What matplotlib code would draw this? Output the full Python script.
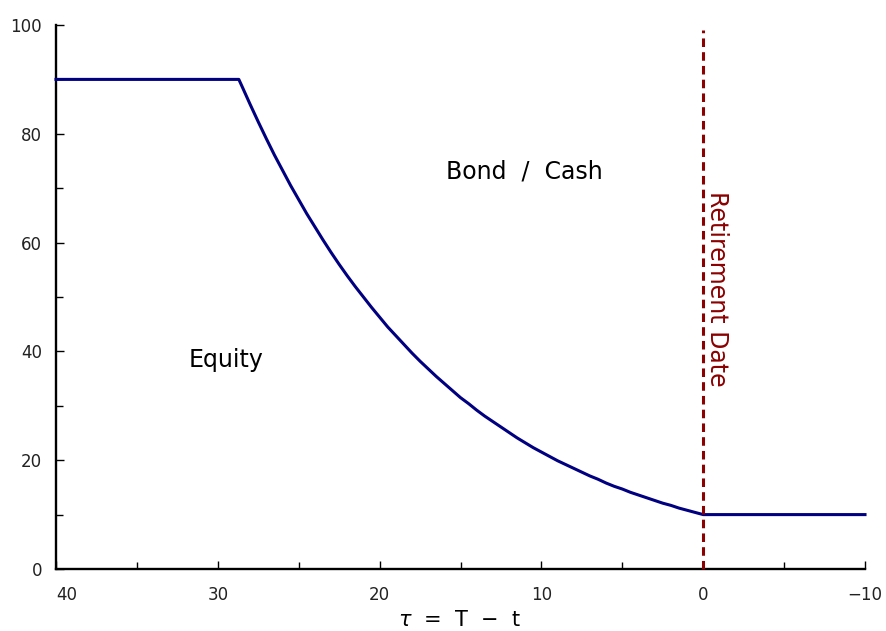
import matplotlib
matplotlib.use("Agg")
import matplotlib.pyplot as plt

# Data
tau = [40, 28.7, 28.5, 28, 27.5, 27, 26.5, 26, 25.5, 25, 24.5, 24, 23.5, 23, 22.5, 22,
       21.5, 21, 20.5, 20, 19.5, 19, 18.5, 18, 17.5, 17, 16.5, 16, 15.5, 15, 14.5, 14,
       13.5, 13, 12.5, 12, 11.5, 11, 10.5, 10, 9.5, 9, 8.5, 8, 7.5, 7, 6.5, 6, 5.5, 5,
       4.5, 4, 3.5, 3, 2.5, 2, 1.5, 1, 0.5, 0, -10]
equity = [90, 90, 88.7, 85.4, 82.2, 79.1, 76.1, 73.3, 70.5, 67.9, 65.3, 62.9, 60.5, 58.2,
          56.0, 53.9, 51.9, 50.0, 48.1, 46.3, 44.5, 42.9, 41.3, 39.7, 38.2, 36.8, 35.4,
          34.1, 32.8, 31.5, 30.4, 29.2, 28.1, 27.1, 26.1, 25.1, 24.1, 23.2, 22.3, 21.5,
          20.7, 19.9, 19.2, 18.5, 17.8, 17.1, 16.5, 15.8, 15.2, 14.7, 14.1, 13.6, 13.1,
          12.6, 12.1, 11.7, 11.2, 10.8, 10.4, 10, 10]
retirement_tau = 0
retirement_top = 99
x_ticks = [40, 30, 20, 10, 0, -10]
x_tick_labels = ["40", "30", "20", "10", "0", "\u221210"]
y_ticks = [0, 20, 40, 60, 80, 100]

plt.rcParams['font.family'] = ['DejaVu Sans']
fig = plt.figure(figsize=(8.86, 6.31), dpi=100)
ax = fig.add_axes([56/886, 1-569/631, (865-56)/886, (569-25)/631])

ax.plot(tau, equity, color='#000080', lw=2.2, solid_joinstyle='round', clip_on=False, zorder=3)
ax.plot([retirement_tau, retirement_tau], [0, retirement_top], color='#8B0000', lw=2.2,
        linestyle=(0, (2.8, 1.7)), clip_on=False, zorder=4)

ax.set_xlim(40, -10)
ax.set_ylim(0, 100)
ax.set_xticks(x_ticks)
ax.set_xticklabels(x_tick_labels)
ax.set_xticks([35, 25, 15, 5, -5], minor=True)
ax.set_yticks(y_ticks)
ax.set_yticks([10, 30, 50, 70, 90], minor=True)

for s in ['top', 'right']:
    ax.spines[s].set_visible(False)
for s in ['left', 'bottom']:
    ax.spines[s].set_linewidth(1.7)
    ax.spines[s].set_capstyle('projecting')

ax.tick_params(axis='both', which='major', direction='in', length=6, width=1.0,
               labelsize=12, colors='black', labelcolor='#222222')
ax.tick_params(axis='both', which='minor', direction='in', length=5, width=1.0)
ax.tick_params(axis='x', which='major', pad=12)
ax.tick_params(axis='y', which='major', pad=10)

labels = ax.get_xticklabels()
labels[0].set_horizontalalignment('left')

ax.set_xlabel("$\\tau$  =  T  \u2212  t", fontsize=15, labelpad=8)
ax.xaxis.set_label_coords((460-56)/(865-56), -(620-569)/(569-25))
ax.xaxis.label.set_verticalalignment('center')

ax.text(11.05, 73, "Bond  /  Cash", fontsize=17, ha='center', va='center', color='black')
ax.text(29.5, 38.5, "Equity", fontsize=17, ha='center', va='center', color='black')
ax.text(-0.85, 51.5, "Retirement Date", fontsize=17, ha='center', va='center',
        rotation=-90, color='#8B0000')

fig.savefig("out.png", dpi=100)
